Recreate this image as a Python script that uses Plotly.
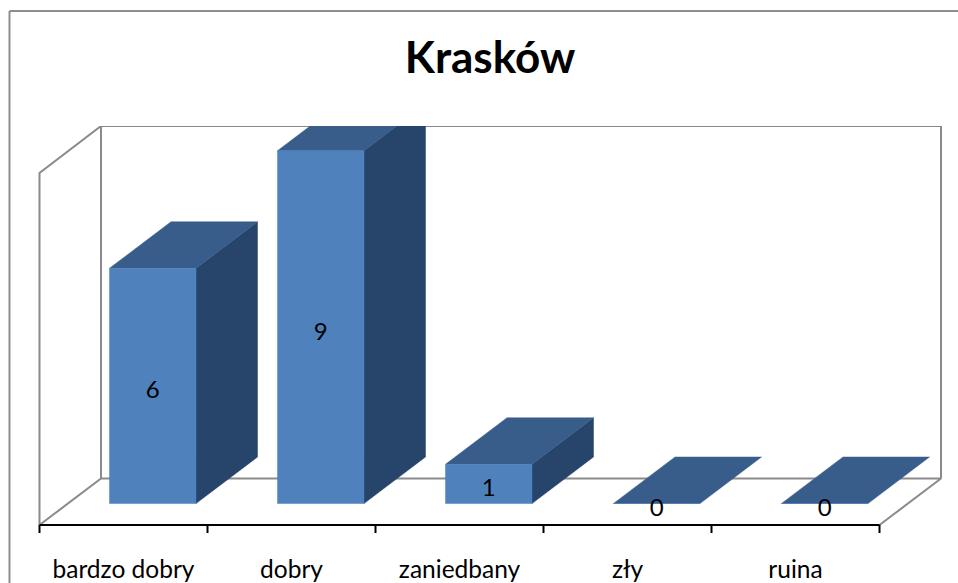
import plotly.graph_objects as go

categories = ["bardzo dobry", "dobry", "zaniedbany", "zły", "ruina"]
values = [6, 9, 1, 0, 0]
chart_title = "Krasków"

FRONT, TOP, SIDE = "#4F81BD", "#385D8A", "#27446A"
WALL, BORDER = "#8A8A8A", "#8E8E8E"
FONT = "Lato"

W, H = 958, 583
PLOT_TOP, PLOT_BOTTOM = 126, 540
PX_PER_CAT, PX_PER_VAL = 168.0, 39.2
AXIS_LEFT, ZERO_Y = 39.5, 503.5

XMIN = -0.5 - AXIS_LEFT / PX_PER_CAT
XMAX = XMIN + W / PX_PER_CAT
YMAX = (ZERO_Y - PLOT_TOP) / PX_PER_VAL
YMIN = (ZERO_Y - PLOT_BOTTOM) / PX_PER_VAL

DEPTH_X = 61.5 / PX_PER_CAT
DEPTH_Y = 46.5 / PX_PER_VAL
BAR_LEFT = -0.0833
BAR_WIDTH = 86.5 / PX_PER_CAT
FLOOR_Y = (ZERO_Y - 525) / PX_PER_VAL
WALL_TOP = (ZERO_Y - 173) / PX_PER_VAL
N = len(categories)
LEFT, RIGHT = -0.5, N - 0.5

fig = go.Figure()


def line(xs, ys, color=WALL, width=2):
    fig.add_trace(go.Scatter(x=xs, y=ys, mode="lines", cliponaxis=False,
                             line=dict(color=color, width=width), hoverinfo="skip"))


def face(xs, ys, color, edge=None):
    fig.add_trace(go.Scatter(x=xs, y=ys, mode="lines", fill="toself", fillcolor=color,
                             line=dict(color=edge or color, width=0.5), hoverinfo="skip"))


# walls and floor
bx, by = DEPTH_X, FLOOR_Y + DEPTH_Y
line([LEFT, LEFT, LEFT + bx, LEFT + bx], [FLOOR_Y, WALL_TOP, YMAX, by])
line([LEFT + bx, RIGHT + bx, RIGHT + bx], [YMAX, YMAX, by])
line([LEFT, LEFT + bx, RIGHT + bx, RIGHT], [FLOOR_Y, by, by, FLOOR_Y])

# category axis
line([LEFT, RIGHT], [FLOOR_Y, FLOOR_Y], "#000000", 2)
for i in range(N + 1):
    line([LEFT + i, LEFT + i], [FLOOR_Y, FLOOR_Y - 8 / PX_PER_VAL], "#000000", 2)

# bars
for i, v in enumerate(values):
    x0 = i + BAR_LEFT
    x1 = x0 + BAR_WIDTH
    if v > 0:
        face([x1, x1 + DEPTH_X, x1 + DEPTH_X, x1, x1],
             [0, DEPTH_Y, v + DEPTH_Y, v, 0], SIDE)
    face([x0, x1, x1 + DEPTH_X, x0 + DEPTH_X, x0],
         [v, v, v + DEPTH_Y, v + DEPTH_Y, v], TOP)
    if v > 0:
        face([x0, x1, x1, x0, x0], [0, 0, v, v, 0], FRONT)
    else:
        line([x0, x1], [0, 0], FRONT, 1)

# value labels
fig.add_trace(go.Scatter(
    x=[i + BAR_LEFT + BAR_WIDTH / 2 for i in range(N)],
    y=[v / 2 - 6.5 / PX_PER_VAL for v in values],
    mode="text", text=[str(v) for v in values], textposition="middle center",
    cliponaxis=False, textfont=dict(family=FONT, size=24, color="#000000"),
    hoverinfo="skip"))

# chart frame (left and top edges are visible in the crop)
fig.add_shape(type="line", xref="paper", yref="paper",
              x0=9.5 / W, x1=9.5 / W,
              y0=(PLOT_BOTTOM - H) / (PLOT_BOTTOM - PLOT_TOP),
              y1=(PLOT_BOTTOM - 11) / (PLOT_BOTTOM - PLOT_TOP),
              line=dict(color=BORDER, width=2))
fig.add_shape(type="line", xref="paper", yref="paper",
              x0=9.5 / W, x1=1,
              y0=(PLOT_BOTTOM - 11) / (PLOT_BOTTOM - PLOT_TOP),
              y1=(PLOT_BOTTOM - 11) / (PLOT_BOTTOM - PLOT_TOP),
              line=dict(color=BORDER, width=2))

fig.update_layout(
    width=W, height=H, showlegend=False,
    paper_bgcolor="white", plot_bgcolor="white",
    margin=dict(l=0, r=0, t=PLOT_TOP, b=H - PLOT_BOTTOM, pad=0, autoexpand=False),
    title=dict(text=f"<b>{chart_title}</b>", x=490 / W, xanchor="center",
               y=1 - 58 / H, yanchor="middle", yref="container",
               font=dict(family=FONT, size=44, color="#000000")),
    xaxis=dict(range=[XMIN, XMAX], tickmode="array", tickvals=list(range(N)),
               ticktext=categories, ticks="", showgrid=False, zeroline=False,
               showline=False, automargin=False, ticklabelstandoff=12,
               tickfont=dict(family=FONT, size=24.5, color="#000000")),
    yaxis=dict(range=[YMIN, YMAX], visible=False, showgrid=False, zeroline=False),
)
fig.write_html("out.html", config={"displayModeBar": False},
               post_script="document.body.style.margin='0';document.body.style.overflow='hidden';")
